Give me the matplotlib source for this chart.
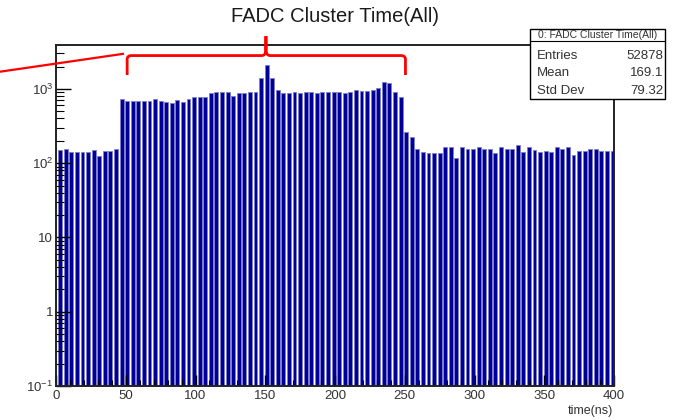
import numpy as np
import matplotlib
matplotlib.use("Agg")
from matplotlib import pyplot as plt
from matplotlib.path import Path
from matplotlib.patches import PathPatch, Rectangle
from matplotlib.lines import Line2D
from matplotlib.ticker import LogLocator, FixedLocator, MultipleLocator, NullFormatter
from matplotlib.transforms import blended_transform_factory

plt.rcParams['font.family'] = ['Liberation Sans', 'DejaVu Sans']
plt.rcParams['mathtext.fontset'] = 'custom'
plt.rcParams['mathtext.rm'] = 'Liberation Sans'

# 4 ns bins, 0..400 ns
bin_width = 4
counts_low = [150, 156, 140, 140, 140, 140, 149, 124, 147, 147, 155]
counts_mid = [726, 688, 688, 688, 688, 688, 726, 688, 661, 641,
              710, 673, 726, 773, 773, 773, 875, 920, 920, 920,
              812, 875, 875, 920, 920, 1395, 2110, 1395, 969, 875,
              875, 920, 875, 920, 920, 875, 920, 920, 920, 920,
              875, 920, 969, 939, 939, 969, 1022, 1255, 1194, 920,
              773]
counts_high = [265, 222, 155, 140, 135, 138, 138, 163, 166, 116,
               166, 155, 155, 166, 155, 155, 135, 163, 155, 155,
               175, 140, 166, 150, 140, 147, 140, 166, 155, 166,
               128, 147, 147, 155, 155, 147, 147, 147]
counts = np.array(counts_low + counts_mid + counts_high)
centers = np.arange(len(counts)) * bin_width + 3

title = "FADC Cluster Time(All)"
stats_title = "0: FADC Cluster Time(All)"
stats_rows = [("Entries", "52878"), ("Mean", "169.1"), ("Std Dev", "79.32")]
ytick_vals = [0.1, 1, 10, 100, 1000]
ytick_labels = ['10$^{-1}$', '1', '10', '10$^{2}$', '10$^{3}$']

W, H = 684, 420
fig = plt.figure(figsize=(W / 100, H / 100), dpi=100)
ax = fig.add_axes([56 / W, 1 - 386 / H, 558 / W, 341 / H])

ax.bar(centers, counts - 0.1, bottom=0.1, width=2.8, color='#000099',
       edgecolor='#7f7fc8', linewidth=0.6)
ax.set_yscale('log')
ax.set_xlim(0, 400)
ax.set_ylim(0.1, 3900)

ax.xaxis.set_major_locator(MultipleLocator(50))
ax.xaxis.set_minor_locator(MultipleLocator(10))
ax.yaxis.set_major_locator(FixedLocator(ytick_vals))
ax.yaxis.set_minor_locator(LogLocator(base=10, subs=np.arange(2, 10)))
ax.yaxis.set_minor_formatter(NullFormatter())
ax.set_yticklabels(ytick_labels)
ax.tick_params(axis='x', which='major', direction='in', length=8, width=1,
               labelsize=9.5, labelcolor='#333333', pad=3)
ax.tick_params(axis='x', which='minor', direction='in', length=4, width=0.8)
ax.tick_params(axis='y', which='major', direction='in', length=11, width=1,
               labelsize=9.5, labelcolor='#333333', pad=2)
ax.tick_params(axis='y', which='minor', direction='in', length=6, width=0.8)
for s in ax.spines.values():
    s.set_linewidth(1.4)
    s.set_color('#222222')

fig.text(335 / W, 1 - 17 / H, title, ha='center', va='center', fontsize=14.5,
         color='#1a1a1a')
fig.text(613 / W, 1 - 411 / H, "time(ns)", ha='right', va='center', fontsize=9,
         color='#333333')

# stats box
bx0, by0, bw, bh = 530 / W, 1 - 99 / H, 135 / W, 70 / H
fig.add_artist(Rectangle((bx0, by0), bw, bh, transform=fig.transFigure,
                         facecolor='white', edgecolor='black', linewidth=1, zorder=5))
fig.add_artist(Line2D([bx0, bx0 + bw], [1 - 40.5 / H] * 2, transform=fig.transFigure,
                      color='black', linewidth=0.8, zorder=6))
fig.text(bx0 + bw / 2, 1 - 35 / H, stats_title, ha='center', va='center',
         fontsize=7.5, color='#333333', zorder=7)
for k, (name, val) in enumerate(stats_rows):
    yy = 1 - (56 + 17.5 * k) / H
    fig.text(537 / W, yy, name, ha='left', va='center', fontsize=9.5,
             color='#333333', zorder=7)
    fig.text(663 / W, yy, val, ha='right', va='center', fontsize=9.5,
             color='#333333', zorder=7)

# red bracket over 50..250 ns
tr = blended_transform_factory(ax.transData, ax.transAxes)
yb, yh, yp = 0.912, 0.969, 1.026
xl, xm, xr = 51, 150.5, 250.5
verts = [(xl, yb), (xl, yh - 0.01), (xl + 0.3, yh), (xl + 3, yh),
         (xm - 3, yh), (xm - 0.3, yh), (xm, yh + 0.015), (xm, yp),
         (xm, yh + 0.015), (xm + 0.3, yh), (xm + 3, yh),
         (xr - 3, yh), (xr - 0.3, yh), (xr, yh - 0.01), (xr, yb)]
codes = [Path.MOVETO, Path.LINETO, Path.CURVE3, Path.CURVE3,
         Path.LINETO, Path.CURVE3, Path.CURVE3, Path.LINETO,
         Path.LINETO, Path.CURVE3, Path.CURVE3,
         Path.LINETO, Path.CURVE3, Path.CURVE3, Path.LINETO]
ax.add_patch(PathPatch(Path(verts, codes), transform=tr, fill=False,
                       edgecolor='red', linewidth=2, clip_on=False, zorder=8))

# red pointer line from the left edge
p1 = fig.transFigure.transform((0, 1 - 71.7 / H))
p2 = tr.transform((48, 0.974))
fig.add_artist(Line2D([p1[0], p2[0]], [p1[1], p2[1]], transform=None,
                      color='red', linewidth=1.6, zorder=8))

fig.savefig("out.png", dpi=100)
